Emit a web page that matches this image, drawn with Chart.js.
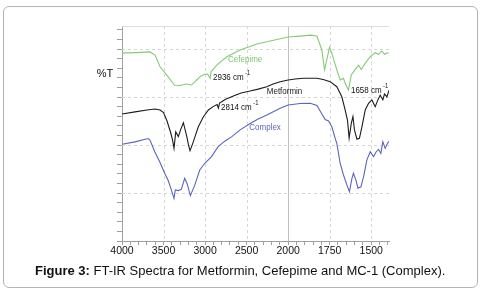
<!DOCTYPE html>
<html><head><meta charset="utf-8">
<script src="https://cdn.jsdelivr.net/npm/chart.js@4.4.1/dist/chart.umd.min.js"></script>
<style>
html,body{margin:0;padding:0;background:#fff;width:487px;height:290px;overflow:hidden;}
#frame{position:absolute;left:3px;top:6px;width:473px;height:280px;border:1px solid #b4b4b4;border-radius:6px;}
#wrap{position:absolute;left:0;top:0;width:487px;height:290px;}
#caption{position:absolute;left:35px;top:263px;font:13px "Liberation Sans",Arial,sans-serif;color:#111;white-space:nowrap;line-height:15px;}
</style></head><body>
<div id="frame"></div>
<div id="wrap"><canvas id="c" width="487" height="290"></canvas></div>
<div id="caption"><b>Figure 3:</b> FT-IR Spectra for Metformin, Cefepime and MC-1 (Complex).</div>
<script>
// ---- data (wavenumber cm-1, transmittance in arbitrary %T units) ----
const cefepimeWn = [4000,3843,3663,3602,3542,3446,3367,3301,3229,3163,3102,3048,3000,2970,2940,2928,2859,2739,2578,2377,2136,2000,1928,1867,1827,1797,1781,1751,1737,1707,1687,1667,1657,1637,1620,1596,1576,1560,1536,1506,1476,1456,1436,1420,1396];
const cefepimeT  = [78.3,78.5,78.8,77.5,72.6,68.5,64.9,64.8,65.4,65.0,67.1,68.8,69.5,69.6,67.8,70.5,73.3,76.8,79.6,82.1,84.0,85.0,85.4,85.8,85.4,79.6,71.3,80.7,78.2,71.3,67.1,67.8,65.7,62.9,69.2,71.5,73.3,71.5,74.0,76.8,78.5,77.8,79.2,77.8,78.6];

const metforminWn = [4000,3843,3699,3602,3542,3500,3458,3413,3392,3374,3353,3322,3295,3261,3220,3199,3181,3148,3114,3081,3020,2960,2904,2855,2840,2825,2759,2659,2566,2458,2361,2257,2181,2096,2000,1958,1908,1827,1789,1747,1707,1677,1657,1643,1633,1620,1610,1601,1586,1571,1556,1536,1516,1496,1476,1460,1446,1430,1420,1406,1392];
const metforminT  = [52.9,53.8,54.6,55.0,54.6,53.5,50.0,45.0,42.1,38.6,45.5,43.5,46.3,49.3,43.5,40.0,37.6,40.7,44.2,47.6,51.8,54.6,56.0,56.9,55.4,57.5,59.0,60.4,61.7,62.5,63.3,64.3,65.4,66.4,67.1,67.5,67.8,67.8,67.3,66.4,64.3,60.1,54.6,50.4,42.9,49.0,51.8,46.3,42.4,42.8,47.6,54.6,57.4,58.8,56.0,58.8,60.8,58.8,61.3,60.1,62.9];

const complexWn = [4000,3843,3687,3663,3606,3546,3486,3446,3406,3374,3358,3325,3286,3245,3217,3177,3124,3064,3004,2924,2843,2759,2678,2578,2458,2361,2257,2096,2000,1928,1867,1827,1797,1777,1757,1737,1717,1707,1687,1667,1646,1631,1616,1607,1592,1580,1562,1546,1526,1506,1486,1470,1456,1442,1430,1416,1402,1390];
const complexT  = [40.3,41.3,42.7,42.1,37.2,33.0,28.2,25.4,21.3,17.8,21.3,21.0,21.5,26.1,24.0,18.9,23.3,29.6,32.4,35.1,39.3,41.7,43.5,46.3,49.0,50.8,52.5,55.3,56.7,57.3,57.4,56.5,52.9,50.6,50.0,47.6,42.8,40.7,32.4,27.5,23.3,20.5,26.1,28.2,25.4,22.0,22.6,26.8,33.8,37.2,35.1,37.2,38.2,36.5,41.4,38.6,40.7,41.8];

// axis ticks
const xTickLabels = ['4000','3500','3000','2500','2000','1750','1500'];
const xTickWn = [4000,3500,3000,2500,2000,1750,1500];
const xMinorWn = [4000,3900,3800,3700,3600,3500,3400,3300,3200,3100,3000,2900,2800,2700,2600,2500,2400,2300,2200,2100,2000,1950,1900,1850,1800,1750,1700,1650,1600,1550,1500,1450,1400];
const yMinorT = [0,4,8,12,16,20,24,28,32,36,40,44,48,52,56,60,64,68,72,76,80,84,88];
const gridDashedWn = [3500,3000,2500,1750,1500];
const gridSolidWn = [2000];
const gridDashedT = [20,40,60,80];

// text annotations
const seriesNames = ['Cefepime','Metformin','Complex'];
const seriesNameWn = [2723,2257,2467];
const seriesNameT = [75.8,62.2,47.4];
const peakLabels = ['2936','2814','1658'];
const peakLabelWn = [2904,2807,1622];
const peakLabelT = [68.3,55.8,62.9];

// broken wavenumber axis: 500 cm-1 per unit above 2000, 250 below
function pos(w){ return w >= 2000 ? (4000 - w)/500 : 4 + (2000 - w)/250; }
function pts(wn, t){ return wn.map((w,i)=>({x:pos(w), y:t[i]})); }

const colors = ['#88c977','#1c1c1c','#5c64bd'];
const FONT = '"Liberation Sans", Arial, sans-serif';

const gridPlugin = {
  id:'gridLines',
  beforeDatasetsDraw(chart){
    const {ctx, chartArea:a, scales:{x,y}} = chart;
    ctx.save();
    ctx.lineWidth = 1;
    ctx.strokeStyle = '#d6d6d6';
    ctx.setLineDash([3,3]);
    for (const w of gridDashedWn){
      const px = Math.round(x.getPixelForValue(pos(w))) + 0.5;
      ctx.beginPath(); ctx.moveTo(px, a.top); ctx.lineTo(px, a.bottom); ctx.stroke();
    }
    for (const v of gridDashedT){
      const py = Math.round(y.getPixelForValue(v)) + 0.5;
      ctx.beginPath(); ctx.moveTo(a.left, py); ctx.lineTo(a.right, py); ctx.stroke();
    }
    ctx.setLineDash([]);
    ctx.strokeStyle = '#c2c2c2';
    for (const w of gridSolidWn){
      const px = Math.round(x.getPixelForValue(pos(w))) + 0.5;
      ctx.beginPath(); ctx.moveTo(px, a.top); ctx.lineTo(px, a.bottom); ctx.stroke();
    }
    ctx.strokeStyle = '#dcdcdc';
    const ty = Math.round(a.top) + 0.5;
    ctx.beginPath(); ctx.moveTo(a.left, ty); ctx.lineTo(a.right, ty); ctx.stroke();
    ctx.restore();
  }
};

function drawCompressed(ctx, text, x, y, size, sx){
  ctx.save();
  ctx.translate(x, y);
  ctx.scale(sx, 1);
  ctx.font = size + 'px ' + FONT;
  ctx.fillText(text, 0, 0);
  const w = ctx.measureText(text).width * sx;
  ctx.restore();
  return w;
}

const labelPlugin = {
  id:'labels',
  afterDatasetsDraw(chart){
    const {ctx, chartArea:a, scales:{x,y}} = chart;
    ctx.save();
    ctx.textBaseline = 'middle';
    ctx.textAlign = 'left';
    const nameColors = ['#7cc46a','#1c1c1c','#5c64bd'];
    seriesNames.forEach((n,i)=>{
      ctx.fillStyle = nameColors[i];
      drawCompressed(ctx, n, x.getPixelForValue(pos(seriesNameWn[i])), y.getPixelForValue(seriesNameT[i]), 9.5, 0.84);
    });
    ctx.fillStyle = '#111';
    peakLabels.forEach((n,i)=>{
      const px = x.getPixelForValue(pos(peakLabelWn[i]));
      const py = y.getPixelForValue(peakLabelT[i]);
      const w = drawCompressed(ctx, n + ' cm', px, py, 9.5, 0.84);
      drawCompressed(ctx, '-1', px + w + 1.5, py - 3.5, 6.5, 0.9);
    });
    // %T axis caption
    ctx.textAlign = 'center';
    ctx.font = '11px ' + FONT;
    ctx.fillText('%T', a.left - 17, y.getPixelForValue(69.6));
    ctx.restore();
  }
};

new Chart(document.getElementById('c'), {
  type:'line',
  data:{ datasets:[
    {label:'Cefepime', data:pts(cefepimeWn, cefepimeT), borderColor:colors[0], borderWidth:1.1, pointRadius:0, tension:0, fill:false},
    {label:'Metformin', data:pts(metforminWn, metforminT), borderColor:colors[1], borderWidth:1.1, pointRadius:0, tension:0, fill:false},
    {label:'Complex', data:pts(complexWn, complexT), borderColor:colors[2], borderWidth:1.1, pointRadius:0, tension:0, fill:false}
  ]},
  options:{
    responsive:false, animation:false, devicePixelRatio:1,
    layout:{padding:{left:115, top:26, right:98, bottom:29}},
    plugins:{legend:{display:false}, tooltip:{enabled:false}, title:{display:false}},
    events:[],
    scales:{
      x:{
        type:'linear', min:0, max:pos(1393),
        afterBuildTicks:s=>{ s.ticks = xMinorWn.map(w=>({value:pos(w)})); },
        afterFit:s=>{ s.height = 20; },
        ticks:{
          autoSkip:false, maxRotation:0, minRotation:0, padding:0, color:'#111',
          font:{family:FONT, size:10.5},
          callback:(v)=>{ const k = xTickWn.findIndex(w=>Math.abs(pos(w)-v)<1e-6); return k>=0 ? xTickLabels[k] : ''; }
        },
        grid:{drawOnChartArea:false, drawTicks:true, tickLength:4, tickColor:'#a0a0a0', tickWidth:1},
        border:{display:true, color:'#a0a0a0', width:1}
      },
      y:{
        type:'linear', min:0, max:89.6,
        afterBuildTicks:s=>{ s.ticks = yMinorT.map(v=>({value:v})); },
        afterFit:s=>{ s.width = 7; },
        ticks:{display:false},
        grid:{drawOnChartArea:false, drawTicks:true, tickLength:5, tickColor:'#a0a0a0', tickWidth:1},
        border:{display:true, color:'#a0a0a0', width:1}
      }
    }
  },
  plugins:[gridPlugin, labelPlugin]
});
</script>
</body></html>
